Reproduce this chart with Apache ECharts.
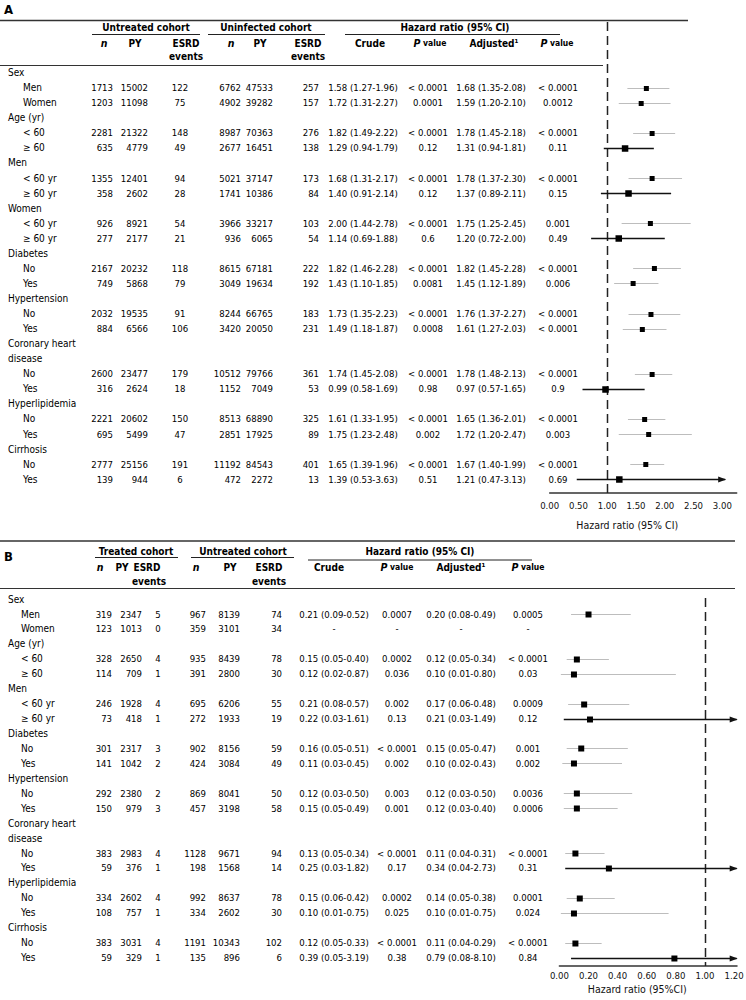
<!DOCTYPE html>
<html><head><meta charset="utf-8">
<script src="https://cdn.jsdelivr.net/npm/echarts@6/dist/echarts.min.js"></script>
<style>html,body{margin:0;padding:0;background:#fff}#c{width:746px;height:1000px}</style>
</head><body><div id="c"></div>
<script>
const _ = null;
// ---------------- Panel A data ----------------
const A_rows = ['Sex','Men','Women','Age (yr)','< 60','\u2265 60','Men','< 60 yr','\u2265 60 yr','Women','< 60 yr','\u2265 60 yr','Diabetes','No','Yes','Hypertension','No','Yes','Coronary heart','disease','No','Yes','Hyperlipidemia','No','Yes','Cirrhosis','No','Yes'];
const A_n1  = [_,1713,1203,_,2281,635,_,1355,358,_,926,277,_,2167,749,_,2032,884,_,_,2600,316,_,2221,695,_,2777,139];
const A_py1 = [_,15002,11098,_,21322,4779,_,12401,2602,_,8921,2177,_,20232,5868,_,19535,6566,_,_,23477,2624,_,20602,5499,_,25156,944];
const A_ev1 = [_,122,75,_,148,49,_,94,28,_,54,21,_,118,79,_,91,106,_,_,179,18,_,150,47,_,191,6];
const A_n2  = [_,6762,4902,_,8987,2677,_,5021,1741,_,3966,936,_,8615,3049,_,8244,3420,_,_,10512,1152,_,8513,2851,_,11192,472];
const A_py2 = [_,47533,39282,_,70363,16451,_,37147,10386,_,33217,6065,_,67181,19634,_,66765,20050,_,_,79766,7049,_,68890,17925,_,84543,2272];
const A_ev2 = [_,257,157,_,276,138,_,173,84,_,103,54,_,222,192,_,183,231,_,_,361,53,_,325,89,_,401,13];
const A_crudeHR = [_,1.58,1.72,_,1.82,1.29,_,1.68,1.40,_,2.00,1.14,_,1.82,1.43,_,1.73,1.49,_,_,1.74,0.99,_,1.61,1.75,_,1.65,1.39];
const A_crudeLo = [_,1.27,1.31,_,1.49,0.94,_,1.31,0.91,_,1.44,0.69,_,1.46,1.10,_,1.35,1.18,_,_,1.45,0.58,_,1.33,1.23,_,1.39,0.53];
const A_crudeHi = [_,1.96,2.27,_,2.22,1.79,_,2.17,2.14,_,2.78,1.88,_,2.28,1.85,_,2.23,1.87,_,_,2.08,1.69,_,1.95,2.48,_,1.96,3.63];
const A_crudeP = [_,'< 0.0001','0.0001',_,'< 0.0001','0.12',_,'< 0.0001','0.12',_,'< 0.0001','0.6',_,'< 0.0001','0.0081',_,'< 0.0001','0.0008',_,_,'< 0.0001','0.98',_,'< 0.0001','0.002',_,'< 0.0001','0.51'];
const A_adjHR = [_,1.68,1.59,_,1.78,1.31,_,1.78,1.37,_,1.75,1.20,_,1.82,1.45,_,1.76,1.61,_,_,1.78,0.97,_,1.65,1.72,_,1.67,1.21];
const A_adjLo = [_,1.35,1.20,_,1.45,0.94,_,1.37,0.89,_,1.25,0.72,_,1.45,1.12,_,1.37,1.27,_,_,1.48,0.57,_,1.36,1.20,_,1.40,0.47];
const A_adjHi = [_,2.08,2.10,_,2.18,1.81,_,2.30,2.11,_,2.45,2.00,_,2.28,1.89,_,2.27,2.03,_,_,2.13,1.65,_,2.01,2.47,_,1.99,3.13];
const A_adjP = [_,'< 0.0001','0.0012',_,'< 0.0001','0.11',_,'< 0.0001','0.15',_,'0.001','0.49',_,'< 0.0001','0.006',_,'< 0.0001','< 0.0001',_,_,'< 0.0001','0.9',_,'< 0.0001','0.003',_,'< 0.0001','0.69'];
const A_xTicks = [0, 0.5, 1, 1.5, 2, 2.5, 3];

// ---------------- Panel B data ----------------
const B_rows = ['Sex','Men','Women','Age (yr)','< 60','\u2265 60','Men','< 60 yr','\u2265 60 yr','Diabetes','No','Yes','Hypertension','No','Yes','Coronary heart','disease','No','Yes','Hyperlipidemia','No','Yes','Cirrhosis','No','Yes'];
const B_n1  = [_,319,123,_,328,114,_,246,73,_,301,141,_,292,150,_,_,383,59,_,334,108,_,383,59];
const B_py1 = [_,2347,1013,_,2650,709,_,1928,418,_,2317,1042,_,2380,979,_,_,2983,376,_,2602,757,_,3031,329];
const B_ev1 = [_,5,0,_,4,1,_,4,1,_,3,2,_,2,3,_,_,4,1,_,4,1,_,4,1];
const B_n2  = [_,967,359,_,935,391,_,695,272,_,902,424,_,869,457,_,_,1128,198,_,992,334,_,1191,135];
const B_py2 = [_,8139,3101,_,8439,2800,_,6206,1933,_,8156,3084,_,8041,3198,_,_,9671,1568,_,8637,2602,_,10343,896];
const B_ev2 = [_,74,34,_,78,30,_,55,19,_,59,49,_,50,58,_,_,94,14,_,78,30,_,102,6];
const B_crudeHR = [_,0.21,_,_,0.15,0.12,_,0.21,0.22,_,0.16,0.11,_,0.12,0.15,_,_,0.13,0.25,_,0.15,0.10,_,0.12,0.39];
const B_crudeLo = [_,0.09,_,_,0.05,0.02,_,0.08,0.03,_,0.05,0.03,_,0.03,0.05,_,_,0.05,0.03,_,0.06,0.01,_,0.05,0.05];
const B_crudeHi = [_,0.52,_,_,0.40,0.87,_,0.57,1.61,_,0.51,0.45,_,0.50,0.49,_,_,0.34,1.82,_,0.42,0.75,_,0.33,3.19];
const B_crudeP = [_,'0.0007','-',_,'0.0002','0.036',_,'0.002','0.13',_,'< 0.0001','0.002',_,'0.003','0.001',_,_,'< 0.0001','0.17',_,'0.0002','0.025',_,'< 0.0001','0.38'];
const B_adjHR = [_,0.20,_,_,0.12,0.10,_,0.17,0.21,_,0.15,0.10,_,0.12,0.12,_,_,0.11,0.34,_,0.14,0.10,_,0.11,0.79];
const B_adjLo = [_,0.08,_,_,0.05,0.01,_,0.06,0.03,_,0.05,0.02,_,0.03,0.03,_,_,0.04,0.04,_,0.05,0.01,_,0.04,0.08];
const B_adjHi = [_,0.49,_,_,0.34,0.80,_,0.48,1.49,_,0.47,0.43,_,0.50,0.40,_,_,0.31,2.73,_,0.38,0.75,_,0.29,8.10];
const B_adjP = [_,'0.0005','-',_,'< 0.0001','0.03',_,'0.0009','0.12',_,'0.001','0.002',_,'0.0036','0.0006',_,_,'< 0.0001','0.31',_,'0.0001','0.024',_,'< 0.0001','0.84'];
const B_xTicks = [0, 0.2, 0.4, 0.6, 0.8, 1.0, 1.2];

// ---------------- layout / style ----------------
const FF = "'DejaVu Sans Condensed', 'Noto Sans', sans-serif";
const FS = 9.5;      // numbers
const FL = 10;       // row labels
const INK = '#000';

function T(x, y, text, align, o) {
  o = o || {};
  const st = {
    x: x, y: y, text: text, fill: o.color || INK,
    align: align, verticalAlign: 'middle', textAlign: align, textVerticalAlign: 'middle',
    font: (o.style || 'normal') + ' ' + (o.weight || 'normal') + ' ' + (o.size || FS) + 'px ' + FF
  };
  if (o.rich) st.rich = o.rich;
  return { type: 'text', silent: true, style: st };
}
function L(x1, y1, x2, y2, w, c) {
  return { type: 'line', silent: true, shape: { x1: x1, y1: y1, x2: x2, y2: y2 }, style: { stroke: c || '#222', lineWidth: w || 1 } };
}
const BOLD = { weight: 'bold', size: 10 };
function PV(x, y) {
  return T(x, y, '{p|P} {v|value}', 'center', { rich: {
    p: { fontStyle: 'italic', fontWeight: 'bold', fontSize: 10.5, fontFamily: FF, fill: INK },
    v: { fontWeight: 'bold', fontSize: 8.5, fontFamily: FF, fill: INK } } });
}
const NI = { style: 'italic', weight: 'bold', size: 10.5 };

const fmtCI = (h, l, u) => h.toFixed(2) + ' (' + l.toFixed(2) + '-' + u.toFixed(2) + ')';

function tableRender(P, C) {
  return function (params, api) {
    const i = api.value(1);
    const y = api.coord([0, i])[1];
    const isData = P.n1[i] != null;
    const kids = [T(isData ? C.item : C.label, y, P.rows[i], 'left', { size: FL })];
    if (isData) {
      kids.push(T(C.n1, y, String(P.n1[i]), 'right'));
      kids.push(T(C.py1, y, String(P.py1[i]), 'right'));
      kids.push(T(C.ev1, y, String(P.ev1[i]), 'center'));
      kids.push(T(C.n2, y, String(P.n2[i]), 'right'));
      kids.push(T(C.py2, y, String(P.py2[i]), 'right'));
      kids.push(T(C.ev2, y, String(P.ev2[i]), 'right'));
      kids.push(T(C.crude, y, P.crudeHR[i] == null ? '-' : fmtCI(P.crudeHR[i], P.crudeLo[i], P.crudeHi[i]), 'center'));
      kids.push(T(C.pc, y, P.crudeP[i], 'center'));
      kids.push(T(C.adj, y, P.adjHR[i] == null ? '-' : fmtCI(P.adjHR[i], P.adjLo[i], P.adjHi[i]), 'center'));
      kids.push(T(C.pa, y, P.adjP[i], 'center'));
    }
    return { type: 'group', children: kids };
  };
}

function forestRender(clipMax, sq, sqNs) {
  return function (params, api) {
    const hr = api.value(0), lo = api.value(1), hi = api.value(2), i = api.value(3);
    const y = Math.round(api.coord([hr, i])[1]) + 0.5;
    const ns = lo < 1 && hi > 1;
    const col = ns ? '#111' : '#bdbdbd';
    const lw = ns ? 1.5 : 1.2;
    const hiC = Math.min(hi, clipMax);
    const x0 = api.coord([lo, i])[0], x1 = api.coord([hiC, i])[0], xc = api.coord([hr, i])[0];
    const kids = [{ type: 'line', shape: { x1: x0, y1: y, x2: x1, y2: y }, style: { stroke: col, lineWidth: lw } }];
    if (hi > clipMax) kids.push({ type: 'polygon', shape: { points: [[x1 + 1, y], [x1 - 7, y - 3], [x1 - 7, y + 3]] }, style: { fill: col } });
    const s = ns ? sqNs : sq;
    kids.push({ type: 'rect', shape: { x: xc - s / 2, y: y - s / 2, width: s, height: s }, style: { fill: '#000' } });
    return { type: 'group', children: kids };
  };
}

function refRender(up, down) {
  return function (params, api) {
    const cs = params.coordSys;
    const x = Math.round(api.coord([api.value(0), 0])[0]) + 0.5;
    return { type: 'line', shape: { x1: x, y1: cs.y - up, x2: x, y2: cs.y + cs.height + down },
      style: { stroke: '#222', lineWidth: 1.5, lineDash: [9, 5] } };
  };
}

const PA = { rows: A_rows, n1: A_n1, py1: A_py1, ev1: A_ev1, n2: A_n2, py2: A_py2, ev2: A_ev2,
  crudeHR: A_crudeHR, crudeLo: A_crudeLo, crudeHi: A_crudeHi, crudeP: A_crudeP,
  adjHR: A_adjHR, adjLo: A_adjLo, adjHi: A_adjHi, adjP: A_adjP };
const PB = { rows: B_rows, n1: B_n1, py1: B_py1, ev1: B_ev1, n2: B_n2, py2: B_py2, ev2: B_ev2,
  crudeHR: B_crudeHR, crudeLo: B_crudeLo, crudeHi: B_crudeHi, crudeP: B_crudeP,
  adjHR: B_adjHR, adjLo: B_adjLo, adjHi: B_adjHi, adjP: B_adjP };

const CA = { label: 8, item: 23, n1: 113, py1: 148, ev1: 180, n2: 241, py2: 273, ev2: 319, crude: 363, pc: 428, adj: 491, pa: 558 };
const CB = { label: 8, item: 21, n1: 112, py1: 142, ev1: 158, n2: 206, py2: 240, ev2: 282, crude: 334, pc: 397, adj: 461, pa: 528 };

const forestData = P => P.adjHR.map((h, i) => h == null ? null : [h, P.adjLo[i], P.adjHi[i], i]).filter(d => d);

function xAxisFor(gi, ticks, max, offset, name, margin, nameGap, shift) {
  return {
    type: 'value', gridIndex: gi, min: ticks[0], max: max, interval: ticks[1] - ticks[0], offset: offset,
    axisLine: { show: true, lineStyle: { color: '#333', width: 1.5 } },
    axisTick: { show: false }, splitLine: { show: false },
    axisLabel: { color: '#111', fontSize: 9.5, fontFamily: FF, margin: margin, showMaxLabel: false,
      formatter: v => (ticks.some(t => Math.abs(t - v) < 1e-9) ? v.toFixed(2) : '') },
    name: name, nameLocation: 'middle', nameGap: nameGap,
    nameTextStyle: { color: '#111', fontSize: 10.5, fontFamily: FF, padding: [0, shift, 0, 0] }
  };
}

const headerA = [
  T(4, 9, 'A', 'left', { weight: 'bold', size: 13 }),
  L(0, 20.5, 688, 20.5, 1.5, '#333'),
  T(146, 27, 'Untreated cohort', 'center', BOLD),
  T(266, 27, 'Uninfected cohort', 'center', BOLD),
  T(455, 27, 'Hazard ratio (95% CI)', 'center', BOLD),
  L(92, 34.5, 200, 34.5, 1), L(208, 34.5, 325, 34.5, 1), L(345, 34.5, 560, 34.5, 1),
  T(104, 43, 'n', 'center', NI), T(135, 43, 'PY', 'center', BOLD), T(186, 43, 'ESRD', 'center', BOLD), T(186, 56, 'events', 'center', BOLD),
  T(231, 43, 'n', 'center', NI), T(260, 43, 'PY', 'center', BOLD), T(308, 43, 'ESRD', 'center', BOLD), T(308, 56, 'events', 'center', BOLD),
  T(370, 43, 'Crude', 'center', BOLD), PV(430, 43), T(494, 43, 'Adjusted\u00b9', 'center', BOLD), PV(557, 43),
  L(0, 65.5, 603, 65.5, 1.2, '#333')
];
const headerB = [
  T(4, 556, 'B', 'left', { weight: 'bold', size: 13 }),
  L(0, 541, 735, 541, 1.5, '#333'),
  T(136, 551, 'Treated cohort', 'center', BOLD),
  T(243, 551, 'Untreated cohort', 'center', BOLD),
  T(420, 551, 'Hazard ratio (95% CI)', 'center', BOLD),
  L(95, 557.5, 178, 557.5, 1), L(191, 557.5, 294, 557.5, 1), L(308, 560, 532, 560, 1),
  T(100, 567, 'n', 'center', NI), T(122, 567, 'PY', 'center', BOLD), T(147, 567, 'ESRD', 'center', BOLD), T(149, 581, 'events', 'center', BOLD),
  T(196, 567, 'n', 'center', NI), T(230, 567, 'PY', 'center', BOLD), T(269, 567, 'ESRD', 'center', BOLD), T(269, 581, 'events', 'center', BOLD),
  T(329, 567, 'Crude', 'center', BOLD), PV(397, 567), T(461, 567, 'Adjusted\u00b9', 'center', BOLD), PV(528, 567),
  L(0, 588.5, 735, 588.5, 1.2, '#333')
];

const chart = echarts.init(document.getElementById('c'), null, { renderer: 'svg' });
chart.setOption({
  animation: false,
  backgroundColor: '#fff',
  grid: [
    { left: 549.7, width: 187, top: 65.07, height: 28 * 15.06, outerBoundsMode: 'none', containLabel: false },
    { left: 559.4, width: 177.6, top: 591.6, height: 25 * 14.94, outerBoundsMode: 'none', containLabel: false }
  ],
  xAxis: [
    xAxisFor(0, A_xTicks, 3.25, 6.2, 'Hazard ratio (95% CI)', 8, 27, 32),
    xAxisFor(1, B_xTicks, 1.22, 0.8, 'Hazard ratio (95%CI)', 5, 18, 22)
  ],
  yAxis: [
    { type: 'category', gridIndex: 0, inverse: true, data: A_rows.map((r, i) => i), show: false },
    { type: 'category', gridIndex: 1, inverse: true, data: B_rows.map((r, i) => i), show: false }
  ],
  graphic: { elements: headerA.concat(headerB) },
  series: [
    { type: 'custom', xAxisIndex: 0, yAxisIndex: 0, clip: false, silent: true, renderItem: refRender(43, 6.2), data: [[1, 0]], encode: { x: 0, y: 1 } },
    { type: 'custom', xAxisIndex: 0, yAxisIndex: 0, clip: false, silent: true, renderItem: tableRender(PA, CA), data: A_rows.map((r, i) => [0, i]), encode: { x: 0, y: 1 } },
    { type: 'custom', xAxisIndex: 0, yAxisIndex: 0, clip: false, silent: true, renderItem: forestRender(3.05, 5, 6.5), data: forestData(PA), encode: { x: [0, 1, 2], y: 3 } },
    { type: 'custom', xAxisIndex: 1, yAxisIndex: 1, clip: false, silent: true, renderItem: refRender(-6.5, 0.8), data: [[1, 0]], encode: { x: 0, y: 1 } },
    { type: 'custom', xAxisIndex: 1, yAxisIndex: 1, clip: false, silent: true, renderItem: tableRender(PB, CB), data: B_rows.map((r, i) => [0, i]), encode: { x: 0, y: 1 } },
    { type: 'custom', xAxisIndex: 1, yAxisIndex: 1, clip: false, silent: true, renderItem: forestRender(1.218, 6, 6), data: forestData(PB), encode: { x: [0, 1, 2], y: 3 } }
  ]
});
</script>
</body></html>
